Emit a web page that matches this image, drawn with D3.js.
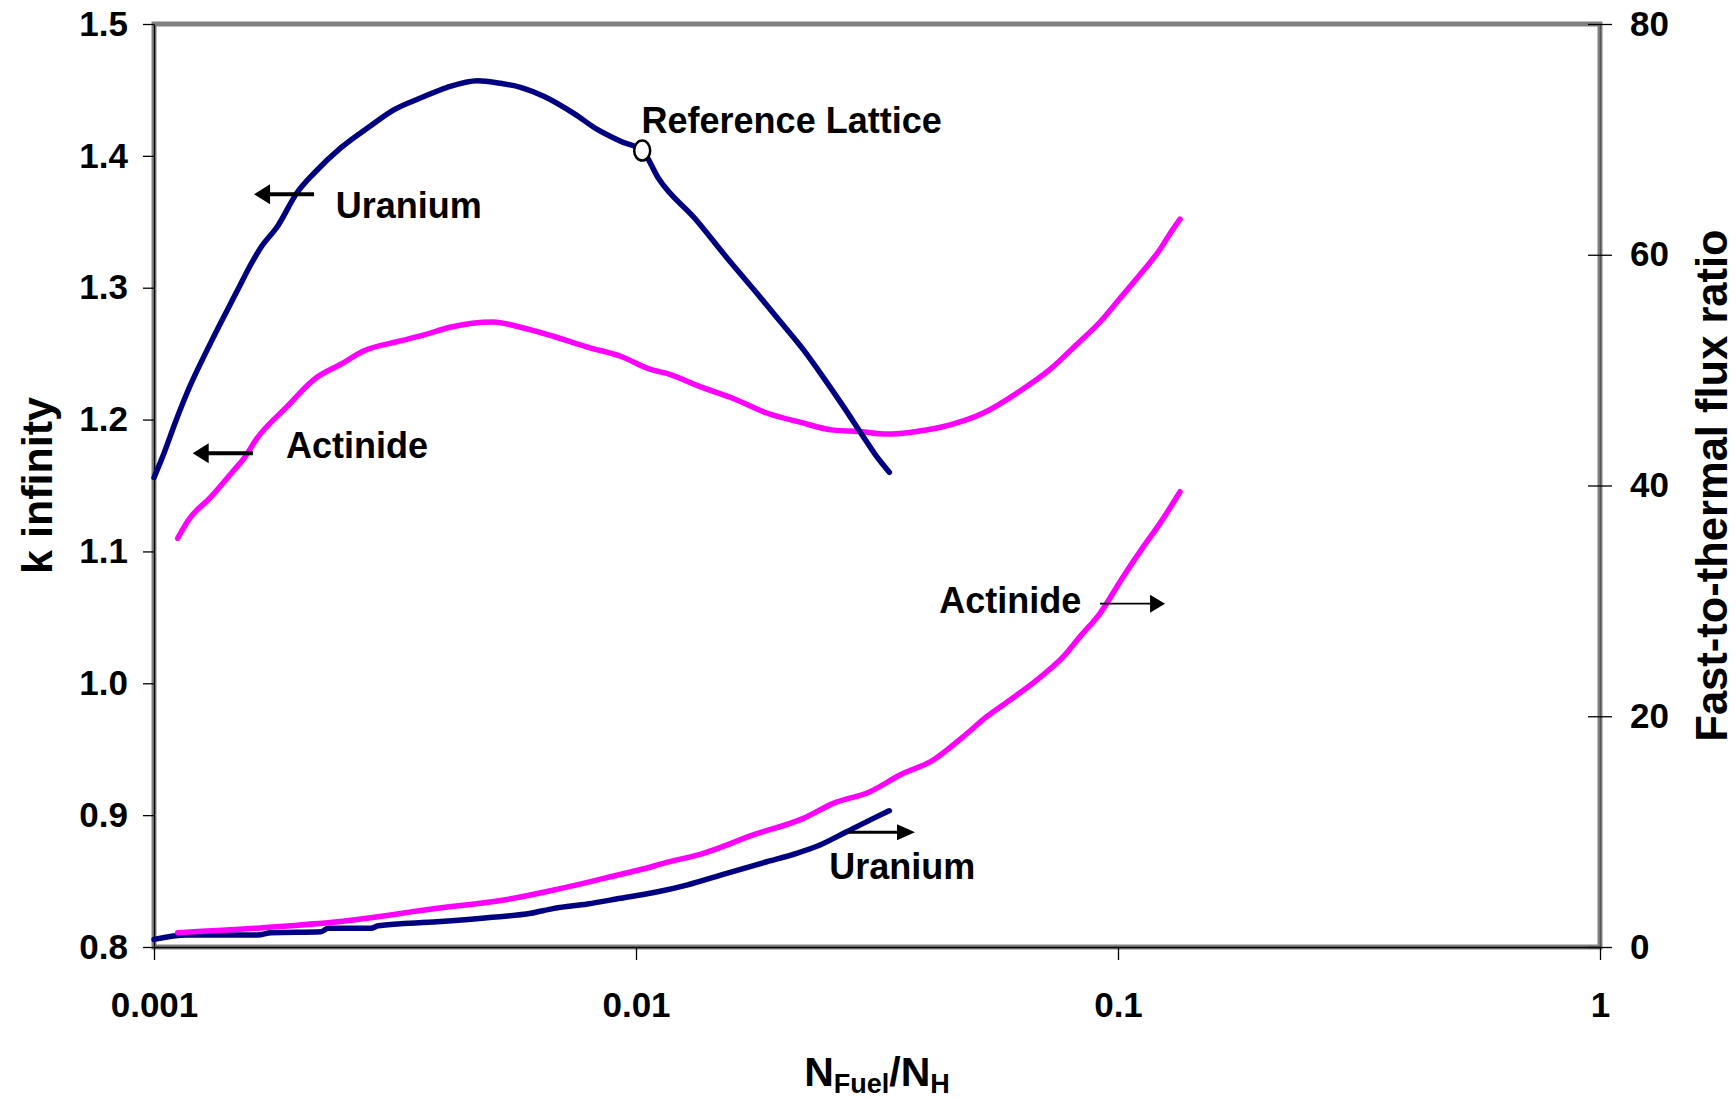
<!DOCTYPE html>
<html>
<head>
<meta charset="utf-8">
<script src="https://cdn.jsdelivr.net/npm/d3@7"></script>
<style>
  html, body { margin: 0; padding: 0; background: #ffffff; }
  svg { display: block; }
  text { font-family: "Liberation Sans", Arial, Helvetica, sans-serif; font-weight: bold; fill: #000; }
</style>
</head>
<body>
<svg id="chart" width="1736" height="1101"></svg>
<script>
// ---- data: k-infinity (left axis) and fast-to-thermal flux ratio (right axis) vs N_Fuel/N_H ----
const uraniumKx = [0.00100, 0.00104, 0.00111, 0.00117, 0.00131, 0.00149, 0.00159, 0.00167, 0.00180, 0.00198,
  0.00215, 0.00244, 0.00282, 0.00315, 0.00358, 0.00406, 0.00469, 0.00524, 0.00576, 0.00645,
  0.00744, 0.00831, 0.00929, 0.01031, 0.01113, 0.01336, 0.01542, 0.01780, 0.02006, 0.02224,
  0.02447, 0.02692, 0.02962, 0.03156, 0.03354];
const uraniumK = [1.156, 1.171, 1.199, 1.220, 1.258, 1.298, 1.318, 1.331, 1.346, 1.372,
  1.387, 1.406, 1.423, 1.435, 1.444, 1.452, 1.457, 1.455, 1.452, 1.445,
  1.432, 1.420, 1.411, 1.404, 1.383, 1.351, 1.323, 1.296, 1.273, 1.253,
  1.232, 1.210, 1.187, 1.172, 1.160];

const actinideKx = [0.00112, 0.00118, 0.00131, 0.00146, 0.00154, 0.00163, 0.00189, 0.00214, 0.00247, 0.00272,
  0.00319, 0.00362, 0.00411, 0.00506, 0.00576, 0.00676, 0.00793, 0.00929, 0.01073, 0.01158,
  0.01358, 0.01592, 0.01867, 0.02189, 0.02567, 0.02915, 0.03313, 0.03822, 0.04483, 0.05255,
  0.06164, 0.07225, 0.08210, 0.09177, 0.1010, 0.1129, 0.1222, 0.1282, 0.1345];
const actinideK = [1.110, 1.124, 1.141, 1.161, 1.171, 1.185, 1.210, 1.230, 1.243, 1.252,
  1.259, 1.264, 1.270, 1.274, 1.270, 1.263, 1.255, 1.248, 1.238, 1.235,
  1.225, 1.216, 1.205, 1.198, 1.192, 1.191, 1.189, 1.191, 1.196, 1.205,
  1.220, 1.238, 1.257, 1.274, 1.292, 1.313, 1.329, 1.341, 1.352];

const uraniumFluxX = [0.00100, 0.00117, 0.00164, 0.00175, 0.00222, 0.00230, 0.00282, 0.00292, 0.00387, 0.00491,
  0.00605, 0.00676, 0.00793, 0.00929, 0.01090, 0.01274, 0.01542, 0.01867, 0.02154, 0.02408,
  0.02736, 0.03108, 0.03354];
const uraniumFlux = [0.66, 1.04, 1.04, 1.24, 1.33, 1.62, 1.62, 1.85, 2.19, 2.54,
  2.92, 3.35, 3.73, 4.22, 4.72, 5.37, 6.39, 7.39, 8.12, 8.84,
  9.99, 11.15, 11.81];

const actinideFluxX = [0.00112, 0.00161, 0.00240, 0.00387, 0.00532, 0.00676, 0.00858, 0.01090, 0.01139, 0.01379,
  0.01751, 0.02224, 0.02567, 0.03058, 0.03529, 0.04139, 0.04776, 0.05339, 0.05969, 0.06782,
  0.07701, 0.08341, 0.09177, 0.1018, 0.1129, 0.1222, 0.1345];
const actinideFlux = [1.24, 1.62, 2.19, 3.35, 4.07, 4.94, 5.95, 7.02, 7.25, 8.12,
  9.71, 11.15, 12.45, 13.46, 14.91, 16.21, 18.23, 19.96, 21.41, 23.14,
  25.16, 26.90, 28.92, 31.90, 34.70, 36.72, 39.46];

// reference lattice point on the uranium k-infinity curve
const referenceX = 0.0103;
const referenceK = 1.404;

// tick values
const xTicks = [0.001, 0.01, 0.1, 1];
const xTickLabels = ["0.001", "0.01", "0.1", "1"];
const kTicks = [0.8, 0.9, 1.0, 1.1, 1.2, 1.3, 1.4, 1.5];
const fluxTicks = [0, 20, 40, 60, 80];

// ---- layout ----
const svg = d3.select("#chart");
const W = 1736, H = 1101;
const margin = { left: 154, right: 136, top: 24, bottom: 154 };
const x0 = margin.left, x1 = W - margin.right, y0 = margin.top, y1 = H - margin.bottom;

const x = d3.scaleLog().domain([0.001, 1]).range([x0, x1]);
const yK = d3.scaleLinear().domain([0.8, 1.5]).range([y1, y0]);
const yF = d3.scaleLinear().domain([0, 80]).range([y1, y0]);

// plot-area frame
svg.append("rect")
  .attr("x", x0).attr("y", y0)
  .attr("width", x1 - x0).attr("height", y1 - y0)
  .attr("fill", "#ffffff")
  .attr("stroke", "#808080")
  .attr("stroke-width", 5);

const tickFont = 35;

// left axis
const gLeft = svg.append("g").attr("transform", `translate(${x0},0)`)
  .call(d3.axisLeft(yK).tickValues(kTicks).tickFormat(d3.format(".1f"))
    .tickSize(11).tickSizeOuter(0).tickPadding(15));
// right axis
const gRight = svg.append("g").attr("transform", `translate(${x1},0)`)
  .call(d3.axisRight(yF).tickValues(fluxTicks).tickFormat(d3.format("d"))
    .tickSize(12).tickSizeOuter(0).tickPadding(18));
gRight.selectAll(".tick line").attr("x1", -12);
// bottom axis
const gBottom = svg.append("g").attr("transform", `translate(0,${y1})`)
  .call(d3.axisBottom(x).tickValues(xTicks).tickFormat((d, i) => xTickLabels[i])
    .tickSize(13).tickSizeOuter(0).tickPadding(32));

[gLeft, gRight, gBottom].forEach(g => {
  g.attr("font-family", null).attr("font-size", null);
  g.selectAll("text").style("font-size", tickFont + "px");
  g.select(".domain").attr("stroke", "#000").attr("stroke-width", 1.3);
  g.selectAll(".tick line").attr("stroke", "#000").attr("stroke-width", 1.3);
});
gRight.select(".domain").attr("stroke", "#555");

// ---- series ----
const lineK = d3.line().x(d => x(d[0])).y(d => yK(d[1])).curve(d3.curveMonotoneX);
const lineF = d3.line().x(d => x(d[0])).y(d => yF(d[1])).curve(d3.curveMonotoneX);

const series = [
  { xs: uraniumFluxX, ys: uraniumFlux, gen: lineF, color: "#000080" },
  { xs: actinideFluxX, ys: actinideFlux, gen: lineF, color: "#ff00ff" },
  { xs: actinideKx, ys: actinideK, gen: lineK, color: "#ff00ff" },
  { xs: uraniumKx, ys: uraniumK, gen: lineK, color: "#000080" }
];
series.forEach(s => {
  svg.append("path")
    .datum(d3.zip(s.xs, s.ys))
    .attr("d", s.gen)
    .attr("fill", "none")
    .attr("stroke", s.color)
    .attr("stroke-width", 5.5)
    .attr("stroke-linejoin", "round")
    .attr("stroke-linecap", "round");
});

// reference lattice marker
svg.append("ellipse")
  .attr("cx", x(referenceX)).attr("cy", yK(referenceK))
  .attr("rx", 8).attr("ry", 10)
  .attr("fill", "#ffffff").attr("stroke", "#000").attr("stroke-width", 2.5);

// ---- annotations (anchored in data units) ----
const labelFont = 36;
function label(text, px, py) {
  svg.append("text").attr("x", px).attr("y", py)
    .style("font-size", labelFont + "px").text(text);
}
function arrow(xa, xb, py, width, headLen, headHalf) {
  // horizontal arrow from xa to tip xb
  const dir = Math.sign(xb - xa);
  svg.append("line")
    .attr("x1", xa).attr("y1", py)
    .attr("x2", xb - dir * headLen * 0.8).attr("y2", py)
    .attr("stroke", "#000").attr("stroke-width", width);
  svg.append("path")
    .attr("d", `M${xb},${py} L${xb - dir * headLen},${py - headHalf} L${xb - dir * headLen},${py + headHalf} Z`)
    .attr("fill", "#000");
}

label("Reference Lattice", x(0.01027), yK(1.4173));

label("Uranium", x(0.002382), yK(1.3526));
arrow(x(0.002148), x(0.001613), yK(1.3708), 4, 16, 10);

label("Actinide", x(0.001879), yK(1.1706));
arrow(x(0.001604), x(0.001203), yK(1.1744), 4, 16, 10);

label("Actinide", x(0.04259), yF(28.92));
arrow(x(0.09177), x(0.1252), yF(29.76), 1.6, 15, 9);

label("Uranium", x(0.02518), yF(5.87));
arrow(x(0.02757), x(0.03792), yF(9.94), 3, 18, 8);

// ---- axis titles ----
svg.append("text")
  .attr("transform", `translate(52,${(y0 + y1) / 2}) rotate(-90)`)
  .attr("text-anchor", "middle")
  .style("font-size", "43px")
  .text("k infinity");

svg.append("text")
  .attr("transform", `translate(1727,${(y0 + y1) / 2}) rotate(-90)`)
  .attr("text-anchor", "middle")
  .style("font-size", "43.5px")
  .text("Fast-to-thermal flux ratio");

const xt = svg.append("text")
  .attr("x", (x0 + x1) / 2).attr("y", 1086)
  .attr("text-anchor", "middle")
  .style("font-size", "41px");
xt.append("tspan").text("N");
xt.append("tspan").attr("dy", 7).style("font-size", "27px").text("Fuel");
xt.append("tspan").attr("dy", -7).text("/N");
xt.append("tspan").attr("dy", 7).style("font-size", "27px").text("H");
</script>
</body>
</html>
